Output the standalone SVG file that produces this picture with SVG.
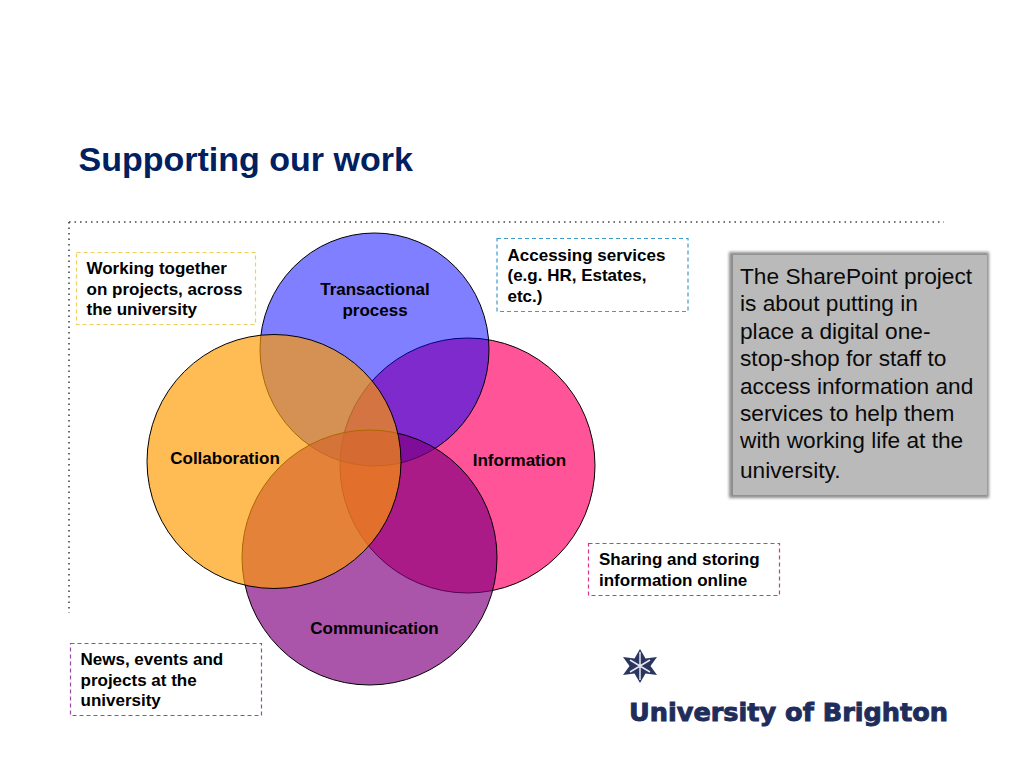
<svg xmlns="http://www.w3.org/2000/svg" width="1024" height="768" viewBox="0 0 1024 768">
<style>
text{font-family:"Liberation Sans",Arial,sans-serif}
.b{font-size:17px;font-weight:700;fill:#000}
.m{text-anchor:middle}
.c{stroke:#000;stroke-width:1}
.d{fill:#fff;stroke-width:1.2;stroke-dasharray:4 3}
.p{font-size:22.7px;fill:#0a0a0a}
.r{fill:none;stroke:#444;stroke-width:1.6;stroke-dasharray:1.5 4}
</style>
<defs><filter id="s" x="-10%" y="-10%" width="120%" height="120%"><feGaussianBlur stdDeviation="1.5"/></filter></defs>
<rect width="1024" height="768" fill="#fff"/>
<text id="title" x="78.500" y="171" font-size="34" font-weight="700" fill="#002060">Supporting our work</text>
<g id="rules">
<line class="r" x1="69" y1="222" x2="944" y2="222"/>
<line class="r" x1="69" y1="222" x2="69" y2="613"/>
</g>
<g id="circle-information"><circle class="c" cx="467.5" cy="465.5" r="127.5" fill="#ff0066" fill-opacity=".67"/></g>
<g id="circle-transactional"><ellipse class="c" cx="374.5" cy="349.5" rx="114.500" ry="116.500" fill="#0000ff" fill-opacity=".5"/></g>
<g id="circle-communication"><circle class="c" cx="369.5" cy="557.5" r="127.5" fill="#800080" fill-opacity=".67"/></g>
<g id="circle-collaboration"><circle class="c" cx="274" cy="461.5" r="127" fill="#ff9900" fill-opacity=".67"/></g>
<g id="labels">
<text class="b m" x="375" y="295">Transactional</text>
<text class="b m" x="375" y="315.500">process</text>
<text class="b m" x="225" y="464">Collaboration</text>
<text class="b m" x="519.500" y="466">Information</text>
<text class="b m" x="374.500" y="634">Communication</text>
</g>
<g id="note-working">
<rect class="d" x="76.500" y="252.500" width="179" height="72" stroke="#f2cf5b"/>
<text class="b" x="86.500" y="274">Working together</text>
<text class="b" x="86.500" y="294.500">on projects, across</text>
<text class="b" x="86.500" y="315">the university</text>
</g>
<g id="note-accessing">
<rect class="d" x="497" y="238.500" width="191" height="73" stroke="#3f9cc9"/>
<text class="b" x="507.500" y="260.500">Accessing services</text>
<text class="b" x="507.500" y="281">(e.g. HR, Estates,</text>
<text class="b" x="507.500" y="301.500">etc.)</text>
</g>
<g id="note-sharing">
<rect class="d" x="588.500" y="543.500" width="191" height="52" stroke="#d6338a"/>
<text class="b" x="599" y="565">Sharing and storing</text>
<text class="b" x="599" y="585.500">information online</text>
</g>
<g id="note-news">
<rect class="d" x="70.500" y="643.500" width="191" height="72" stroke="#9a4aa8"/>
<text class="b" x="80.500" y="665">News, events and</text>
<text class="b" x="80.500" y="685.500">projects at the</text>
<text class="b" x="80.500" y="706">university</text>
</g>
<g id="summary">
<rect x="729" y="252" width="260" height="246" fill="#8c8c8c" filter="url(#s)"/>
<rect x="733" y="255" width="254" height="240" fill="#bababa"/>
<text class="p" x="740" y="284">The SharePoint project</text>
<text class="p" x="740" y="311">is about putting in</text>
<text class="p" x="740" y="339">place a digital one-</text>
<text class="p" x="740" y="366">stop-shop for staff to</text>
<text class="p" x="740" y="393.500">access information and</text>
<text class="p" x="740" y="421">services to help them</text>
<text class="p" x="740" y="448">with working life at the</text>
<text class="p" x="740" y="478">university.</text>
</g>
<g id="logo">
<polygon points="640,649 645.500,658.500 657,657 650.500,666 657,675 645.500,673.500 640,683 634.500,673.500 623,675 629.500,666 623,657 634.500,658.500" fill="#2a3560"/>
<polygon points="640,652 640,666 650,660 640,666 650,672 640,666 640,680 640,666 630,672 640,666 630,660 640,666" fill="none" stroke="#e8e8f0" stroke-width="1.500"/>
<text x="629" y="721" font-size="24" font-weight="700" fill="#1f2d5c" stroke="#1f2d5c" stroke-width=".9" style="font-family:'DejaVu Sans',sans-serif" textLength="319" lengthAdjust="spacingAndGlyphs">University of Brighton</text>
</g>
</svg>
